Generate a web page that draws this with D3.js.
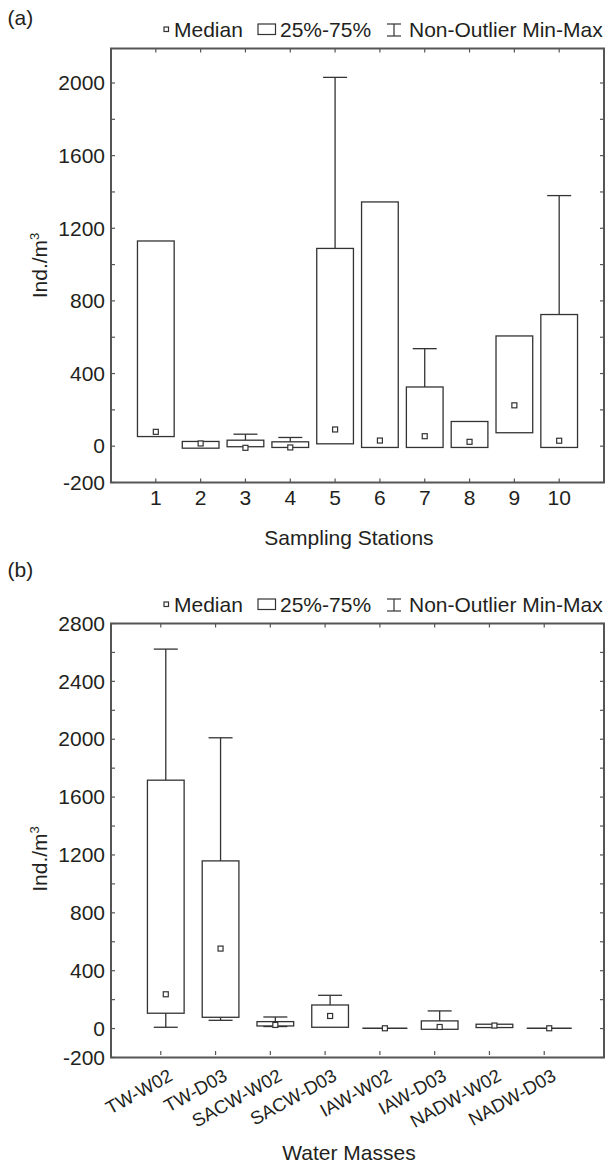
<!DOCTYPE html>
<html lang="en">
<head>
<meta charset="UTF-8">
<title>Box plots</title>
<script src="https://d3js.org/d3.v7.min.js"></script>
<style>
  body { margin: 0; background: #fff; }
  svg text { font-family: "Liberation Sans", Arial, sans-serif; fill: #231f20; }
</style>
</head>
<body>
<svg id="chart" width="606" height="1166"></svg>
<script>
// ---- data ----
const stations = ["1", "2", "3", "4", "5", "6", "7", "8", "9", "10"];
const stMin    = [53, -11, -3, -7, 13, -7, -7, -7, 74, -7];
const stQ1     = [53, -11, -3, -7, 13, -7, -7, -7, 74, -7];
const stMedian = [79, 15, -9, -7, 92, 31, 55, 24, 225, 30];
const stQ3     = [1130, 26, 33, 24, 1089, 1345, 326, 136, 607, 725];
const stMax    = [1130, 26, 66, 48, 2031, 1345, 537, 136, 607, 1380];
const stTicks  = [-200, 0, 400, 800, 1200, 1600, 2000];

const masses   = ["TW-W02", "TW-D03", "SACW-W02", "SACW-D03", "IAW-W02", "IAW-D03", "NADW-W02", "NADW-D03"];
const wmMin    = [9, 57, 14, 9, 2, -5, 7, 2];
const wmQ1     = [106, 78, 18, 9, 2, -5, 7, 2];
const wmMedian = [237, 553, 25, 87, 2, 11, 21, 2];
const wmQ3     = [1717, 1159, 48, 163, 2, 53, 30, 2];
const wmMax    = [2623, 2010, 80, 230, 2, 122, 30, 2];
const wmTicks  = [-200, 0, 400, 800, 1200, 1600, 2000, 2400, 2800];

const svg = d3.select("#chart");
const left = 111, right = 604;
const boxW = 36.7, capW = 24, tickLen = 4;
const ink = "#333", frameCol = "#555";

function drawPanel(o) {
  const g = svg.append("g");
  const top = o.top, bottom = o.top + 434;
  const x = d3.scaleLinear().domain([0, o.cats.length + 1]).range([left, right]);
  const y = d3.scaleLinear().domain(o.yDomain).range([bottom, top]);

  // panel letter
  g.append("text").attr("x", 7.5).attr("y", o.letterY).attr("font-size", 21).text(o.letter);

  // legend
  const ly = top - 12;
  g.append("rect").attr("x", 164).attr("y", ly - 9.5).attr("width", 4.5).attr("height", 4.5)
    .attr("fill", "#fff").attr("stroke", ink).attr("stroke-width", 1.2);
  g.append("text").attr("x", 174).attr("y", ly).attr("font-size", 21).text("Median");
  g.append("rect").attr("x", 258).attr("y", ly - 12.5).attr("width", 17.5).attr("height", 10.5)
    .attr("fill", "none").attr("stroke", ink).attr("stroke-width", 1.2);
  g.append("text").attr("x", 280).attr("y", ly).attr("font-size", 21).text("25%-75%");
  const wi = g.append("g").attr("stroke", ink).attr("stroke-width", 1.2);
  wi.append("line").attr("x1", 387).attr("x2", 401).attr("y1", ly - 12.5).attr("y2", ly - 12.5);
  wi.append("line").attr("x1", 387).attr("x2", 401).attr("y1", ly - 0.5).attr("y2", ly - 0.5);
  wi.append("line").attr("x1", 394).attr("x2", 394).attr("y1", ly - 12.5).attr("y2", ly - 0.5);
  g.append("text").attr("x", 409).attr("y", ly).attr("font-size", 21).text("Non-Outlier Min-Max");

  // y ticks (every 200, inward on both sides)
  const minor = d3.range(o.yDomain[0], o.yDomain[1] + 1, 200);
  const tk = g.append("g").attr("stroke", frameCol).attr("stroke-width", 1.2);
  minor.forEach(v => {
    tk.append("line").attr("x1", left).attr("x2", left + tickLen).attr("y1", y(v)).attr("y2", y(v));
    tk.append("line").attr("x1", right - tickLen).attr("x2", right).attr("y1", y(v)).attr("y2", y(v));
  });
  // y labels through d3 axis, without its own lines
  const ya = g.append("g").attr("transform", `translate(${left},0)`)
    .call(d3.axisLeft(y).tickValues(o.yTicks).tickSize(0).tickPadding(6).tickFormat(d => String(d)));
  ya.select(".domain").remove();
  ya.selectAll("text").attr("font-size", 21).attr("font-family", null).attr("fill", "#231f20");

  // x ticks top & bottom
  o.cats.forEach((c, i) => {
    const tx = x(i + 1) + o.tickShift;
    tk.append("line").attr("x1", tx).attr("x2", tx).attr("y1", top).attr("y2", top + tickLen);
    tk.append("line").attr("x1", tx).attr("x2", tx)
      .attr("y1", bottom - tickLen - o.tickGap).attr("y2", bottom - o.tickGap);
  });

  // x labels
  if (o.rotate) {
    g.selectAll(".xl").data(o.cats).enter().append("text")
      .attr("font-size", 18.5).attr("text-anchor", "end")
      .attr("transform", (d, i) => `translate(${x(i + 1) + o.tickShift + 13},${bottom + 22}) rotate(-29)`)
      .text(d => d);
  } else {
    g.selectAll(".xl").data(o.cats).enter().append("text")
      .attr("font-size", 21).attr("text-anchor", "middle")
      .attr("x", (d, i) => x(i + 1)).attr("y", bottom + 22.5)
      .text(d => d);
  }

  // axis titles
  g.append("text").attr("x", 349).attr("y", o.titleY).attr("font-size", 21)
    .attr("text-anchor", "middle").text(o.xTitle);
  const yt = g.append("text").attr("font-size", 21).attr("text-anchor", "middle")
    .attr("transform", `translate(46.5,${o.yTitleMid}) rotate(-90)`);
  yt.append("tspan").text("Ind./m");
  yt.append("tspan").attr("font-size", 13).attr("dy", -8).text("3");

  // boxes
  const boxes = g.selectAll(".box").data(o.cats).enter().append("g")
    .attr("stroke", ink).attr("stroke-width", 1.3).attr("fill", "none");
  boxes.each(function (d, i) {
    const b = d3.select(this), cx = x(i + 1);
    if (o.max[i] > o.q3[i]) {
      b.append("line").attr("x1", cx).attr("x2", cx).attr("y1", y(o.q3[i])).attr("y2", y(o.max[i]));
      b.append("line").attr("x1", cx - capW / 2).attr("x2", cx + capW / 2).attr("y1", y(o.max[i])).attr("y2", y(o.max[i]));
    }
    if (o.min[i] < o.q1[i]) {
      b.append("line").attr("x1", cx).attr("x2", cx).attr("y1", y(o.q1[i])).attr("y2", y(o.min[i]));
      b.append("line").attr("x1", cx - capW / 2).attr("x2", cx + capW / 2).attr("y1", y(o.min[i])).attr("y2", y(o.min[i]));
    }
    if (o.q3[i] > o.q1[i]) {
      b.append("rect").attr("x", cx - boxW / 2).attr("width", boxW)
        .attr("y", y(o.q3[i])).attr("height", y(o.q1[i]) - y(o.q3[i]));
    } else {
      // collapsed box: drawn as a flat bar
      b.append("line").attr("x1", cx - 22.5).attr("x2", cx + 22.5)
        .attr("y1", y(o.q3[i])).attr("y2", y(o.q3[i])).attr("stroke-width", 1.6);
    }
    b.append("rect").attr("x", cx - 2.5).attr("y", y(o.median[i]) - 2.5).attr("width", 5).attr("height", 5)
      .attr("fill", "#fff").attr("stroke-width", 1.2);
  });

  // frame
  g.append("rect").attr("x", left).attr("y", top).attr("width", right - left).attr("height", bottom - top)
    .attr("fill", "none").attr("stroke", frameCol).attr("stroke-width", 2);
}

drawPanel({
  letter: "(a)", letterY: 25, top: 48.5, yDomain: [-200, 2190], yTicks: stTicks,
  cats: stations, min: stMin, q1: stQ1, median: stMedian, q3: stQ3, max: stMax,
  tickShift: 0, tickGap: 0, rotate: false,
  xTitle: "Sampling Stations", titleY: 545, yTitleMid: 265.5
});

drawPanel({
  letter: "(b)", letterY: 576.5, top: 623.5, yDomain: [-200, 2800], yTicks: wmTicks,
  cats: masses, min: wmMin, q1: wmQ1, median: wmMedian, q3: wmQ3, max: wmMax,
  tickShift: -5, tickGap: 2.5, rotate: true,
  xTitle: "Water Masses", titleY: 1160, yTitleMid: 859
});
</script>
</body>
</html>
